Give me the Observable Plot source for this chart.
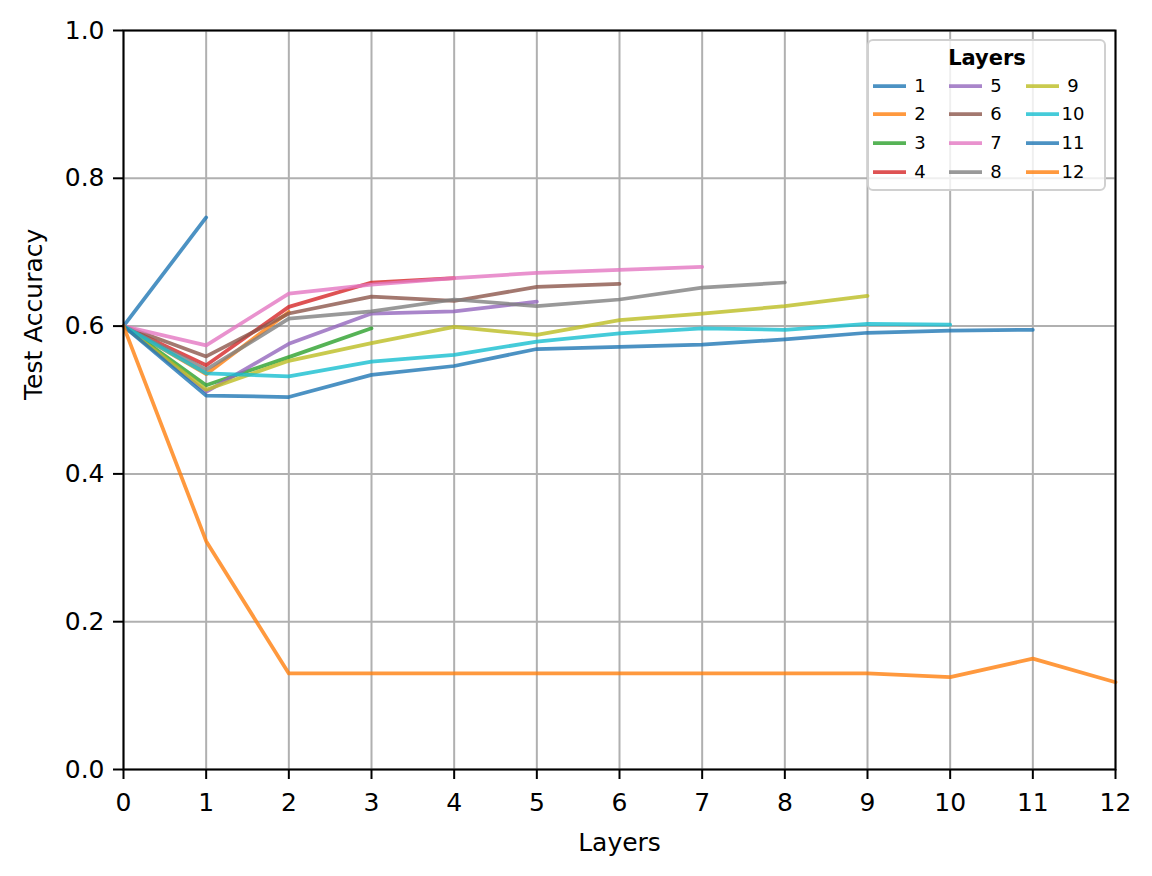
<!DOCTYPE html>
<html>
<head>
<meta charset="utf-8">
<script src="https://cdn.jsdelivr.net/npm/d3@7"></script>
<script src="https://cdn.jsdelivr.net/npm/@observablehq/plot@0.6"></script>
<style>
  html, body { margin: 0; padding: 0; background: #fff; }
  #chart { width: 1152px; height: 876px; }
</style>
</head>
<body>
<div id="chart"></div>
<script>
// ---- data ----
const layerTicks = [0, 1, 2, 3, 4, 5, 6, 7, 8, 9, 10, 11, 12];
const yTicks = [0, 0.2, 0.4, 0.6, 0.8, 1.0];
const seriesNames = ["1", "2", "3", "4", "5", "6", "7", "8", "9", "10", "11", "12"];
const acc1 = [0.600, 0.747];
const acc2 = [0.600, 0.535, 0.619];
const acc3 = [0.600, 0.520, 0.558, 0.597];
const acc4 = [0.600, 0.547, 0.626, 0.659, 0.665];
const acc5 = [0.600, 0.511, 0.576, 0.617, 0.620, 0.633];
const acc6 = [0.600, 0.559, 0.617, 0.640, 0.634, 0.653, 0.657];
const acc7 = [0.600, 0.574, 0.644, 0.656, 0.665, 0.672, 0.676, 0.680];
const acc8 = [0.600, 0.541, 0.610, 0.620, 0.636, 0.627, 0.636, 0.652, 0.659];
const acc9 = [0.600, 0.514, 0.553, 0.577, 0.599, 0.588, 0.608, 0.617, 0.627, 0.641];
const acc10 = [0.600, 0.536, 0.532, 0.552, 0.561, 0.579, 0.590, 0.597, 0.595, 0.603, 0.602];
const acc11 = [0.600, 0.506, 0.504, 0.534, 0.546, 0.569, 0.572, 0.575, 0.582, 0.591, 0.594, 0.595];
const acc12 = [0.600, 0.309, 0.130, 0.130, 0.130, 0.130, 0.130, 0.130, 0.130, 0.130, 0.125, 0.150, 0.118];
const tab10 = ["#1f77b4", "#ff7f0e", "#2ca02c", "#d62728", "#9467bd", "#8c564b", "#e377c2", "#7f7f7f", "#bcbd22", "#17becf"];

const allSeries = [acc1, acc2, acc3, acc4, acc5, acc6, acc7, acc8, acc9, acc10, acc11, acc12];
const rows = [];
allSeries.forEach((arr, i) => arr.forEach((v, j) => rows.push({series: seriesNames[i], layer: j, acc: v})));
const colorRange = seriesNames.map((_, i) => tab10[i % 10]);

const FONT = "DejaVu Sans, Liberation Sans, sans-serif";

const chart = Plot.plot({
  width: 1152,
  height: 876,
  marginLeft: 123,
  marginRight: 37,
  marginTop: 30,
  marginBottom: 107,
  style: {fontFamily: FONT, fontSize: "25px", background: "#fff", color: "#000"},
  x: {domain: [0, 12]},
  y: {domain: [0, 1]},
  color: {type: "ordinal", domain: seriesNames, range: colorRange},
  marks: [
    Plot.gridX(layerTicks, {stroke: "#b0b0b0", strokeOpacity: 1, strokeWidth: 2}),
    Plot.gridY(yTicks, {stroke: "#b0b0b0", strokeOpacity: 1, strokeWidth: 2}),
    Plot.lineY(rows, {x: "layer", y: "acc", z: "series", stroke: "series", strokeWidth: 3.75, strokeOpacity: 0.8, curve: "linear"}),
    Plot.axisX(layerTicks, {tickSize: 10, tickPadding: 14, strokeWidth: 2, label: null, tickFormat: d => String(d)}),
    Plot.axisY(yTicks, {tickSize: 10, tickPadding: 9, strokeWidth: 2, label: null, tickFormat: d3.format(".1f")}),
    Plot.frame({stroke: "#000", strokeWidth: 2}),
    Plot.text(["Layers"], {frameAnchor: "bottom", dy: 73, text: d => d, fontSize: 25, lineAnchor: "middle"}),
    Plot.text(["Test Accuracy"], {frameAnchor: "left", dx: -90, rotate: -90, text: d => d, fontSize: 25, lineAnchor: "middle"})
  ]
});
document.getElementById("chart").appendChild(chart);

// ---- legend (matplotlib style) ----
const svg = d3.select(chart);
const lg = svg.append("g").attr("font-family", FONT);
lg.append("rect")
  .attr("x", 868).attr("y", 40).attr("width", 237).attr("height", 150)
  .attr("rx", 5).attr("fill", "#fff").attr("fill-opacity", 0.8)
  .attr("stroke", "#d0d0d0").attr("stroke-width", 2);
lg.append("text").attr("x", 987).attr("y", 58).attr("dy", "0.35em")
  .attr("text-anchor", "middle").attr("font-weight", "bold").attr("font-size", 21)
  .text("Layers");
const colX = [873, 949, 1026];
const rowY = [86, 114, 143, 172];
seriesNames.forEach((name, i) => {
  const c = Math.floor(i / 4), r = i % 4;
  lg.append("line")
    .attr("x1", colX[c]).attr("x2", colX[c] + 33)
    .attr("y1", rowY[r]).attr("y2", rowY[r])
    .attr("stroke", colorRange[i]).attr("stroke-opacity", 0.8).attr("stroke-width", 3.75);
  lg.append("text").attr("x", colX[c] + 47).attr("y", rowY[r]).attr("dy", "0.35em")
    .attr("font-size", 18).attr("fill", "#000").text(name);
});
</script>
</body>
</html>
